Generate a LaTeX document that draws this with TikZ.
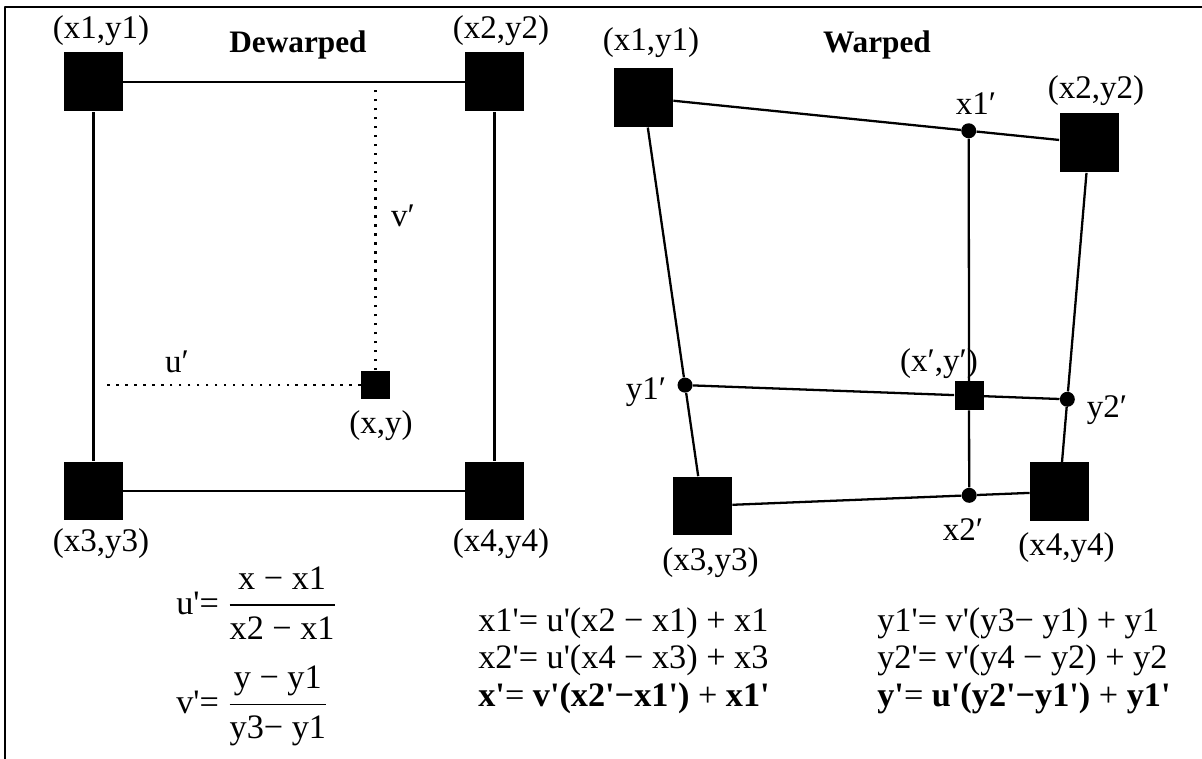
\documentclass[tikz,border=0pt]{standalone}
\usepackage{amsmath}
\usepackage{fontspec}
\setmainfont{Liberation Serif}
\newfontfamily\eqfont{Liberation Serif}
\usetikzlibrary{calc}

\begin{document}
\begin{tikzpicture}[
  x=0.02cm,
  y=-0.02cm,
  line join=round,
  edge/.style={line width=1.3pt},
  guide/.style={line width=1.4pt,dash pattern=on 1.4pt off 3.7pt},
  corner/.style={fill=black,inner sep=0pt,minimum size=1.18cm},
  probe/.style={fill=black,inner sep=0pt,minimum size=0.58cm},
  knot/.style={circle,fill=black,inner sep=0pt,minimum size=0.3cm},
  tag/.style={font=\fontsize{18.8}{22}\selectfont,anchor=base,inner sep=0pt},
  title/.style={font=\fontsize{17.8}{21}\selectfont\bfseries,anchor=base,inner sep=0pt},
  formula/.style={font=\eqfont\fontsize{19.5}{23}\selectfont,anchor=base west,inner sep=0pt}
]
\useasboundingbox (0,0) rectangle (1202,759);

% Frame (only its top and left side are in the picture).
\draw[line width=1.5pt] (5,759) -- (5,7) -- (1202,7);

% Dewarped grid: four corner squares and the sample point.
\node[corner] (d1) at (93.5,82) {};
\node[corner] (d2) at (494.5,82) {};
\node[corner] (d3) at (93.5,491) {};
\node[corner] (d4) at (494.5,491) {};
\node[probe] (dp) at (375.5,385) {};

\draw[edge] (d1) -- (d2);
\draw[edge] (d2) -- (d4);
\draw[edge] (d4) -- (d3);
\draw[edge] (d3) -- (d1);

\coordinate (vtop) at ($(dp |- d1)+(0,7)$);
\coordinate (uleft) at ($(d1 |- dp)+(8,0)$);
\draw[guide] (dp.north) -- (vtop);
\draw[guide] (dp.west) -- (uleft);

\node[title] (dtitle) at (298,53) {Dewarped};
\node[tag] (dlab1) at (101,39) {(x1,y1)};
\node[tag] (dlab2) at (501,39) {(x2,y2)};
\node[tag] (dlab3) at (101,551) {(x3,y3)};
\node[tag] (dlab4) at (501,551) {(x4,y4)};
\node[tag] (dlabp) at (381,434) {(x,y)};
\node[tag] (ulab) at (177,373) {u′};
\node[tag] (vlab) at (403,227) {v′};

% Warped grid: the corners move, the sample point follows.
\node[corner] (w1) at (643.5,97.7) {};
\node[corner] (w2) at (1089,143) {};
\node[corner] (w3) at (702.5,506) {};
\node[corner] (w4) at (1059.5,491.7) {};

\node[knot] (x1p) at ($(w1)!0.73!(w2)$) {};
\node[knot] (x2p) at ($(w3)!0.747!(w4)$) {};
\node[knot] (y1p) at ($(w1)!0.704!(w3)$) {};
\node[knot] (y2p) at ($(w2)!0.735!(w4)$) {};
\node[probe] (wp) at (intersection of x1p--x2p and y1p--y2p) {};

\draw[edge] (w1) -- (x1p);
\draw[edge] (x1p) -- (w2);
\draw[edge] (w3) -- (x2p);
\draw[edge] (x2p) -- (w4);
\draw[edge] (w1) -- (y1p);
\draw[edge] (y1p) -- (w3);
\draw[edge] (w2) -- (y2p);
\draw[edge] (y2p) -- (w4);
\draw[edge] (x1p) -- (wp);
\draw[edge] (wp) -- (x2p);
\draw[edge] (y1p) -- (wp);
\draw[edge] (wp) -- (y2p);

\node[title] (wtitle) at (877,53) {Warped};
\node[tag] (wlab1) at (651,51) {(x1,y1)};
\node[tag] (wlab2) at (1096,99) {(x2,y2)};
\node[tag] (wlab3) at (710.5,570) {(x3,y3)};
\node[tag] (wlab4) at (1066.5,555) {(x4,y4)};
\node[tag] (wlabp) at (939,372) {(x′,y′)};
\node[tag] (x1lab) at (976,115) {x1′};
\node[tag] (x2lab) at (963,540) {x2′};
\node[tag] (y1lab) at (646,400) {y1′};
\node[tag] (y2lab) at (1107,418) {y2′};

% Formulas.
\node[formula,anchor=west] (equ) at (176,603)
  {u'= $\displaystyle\frac{\text{x − x1}}{\text{x2 − x1}}$};
\node[formula,anchor=west] (eqv) at (176,706)
  {v'= $\displaystyle\frac{\text{y − y1}}{\text{y3− y1}}$};

\node[formula] (eqx1) at (478,631) {x1'= u'(x2 − x1) + x1};
\node[formula] (eqx2) at (478,668) {x2'= u'(x4 − x3) + x3};
\node[formula] (eqx) at (478,706)
  {\bfseries x'\mdseries= \bfseries v'(x2'−x1')\mdseries{} + \bfseries x1'};

\node[formula] (eqy1) at (877,631) {y1'= v'(y3− y1) + y1};
\node[formula] (eqy2) at (877,668) {y2'= v'(y4 − y2) + y2};
\node[formula] (eqy) at (877,706)
  {\bfseries y'\mdseries= \bfseries u'(y2'−y1')\mdseries{} + \bfseries y1'};

\end{tikzpicture}
\end{document}
